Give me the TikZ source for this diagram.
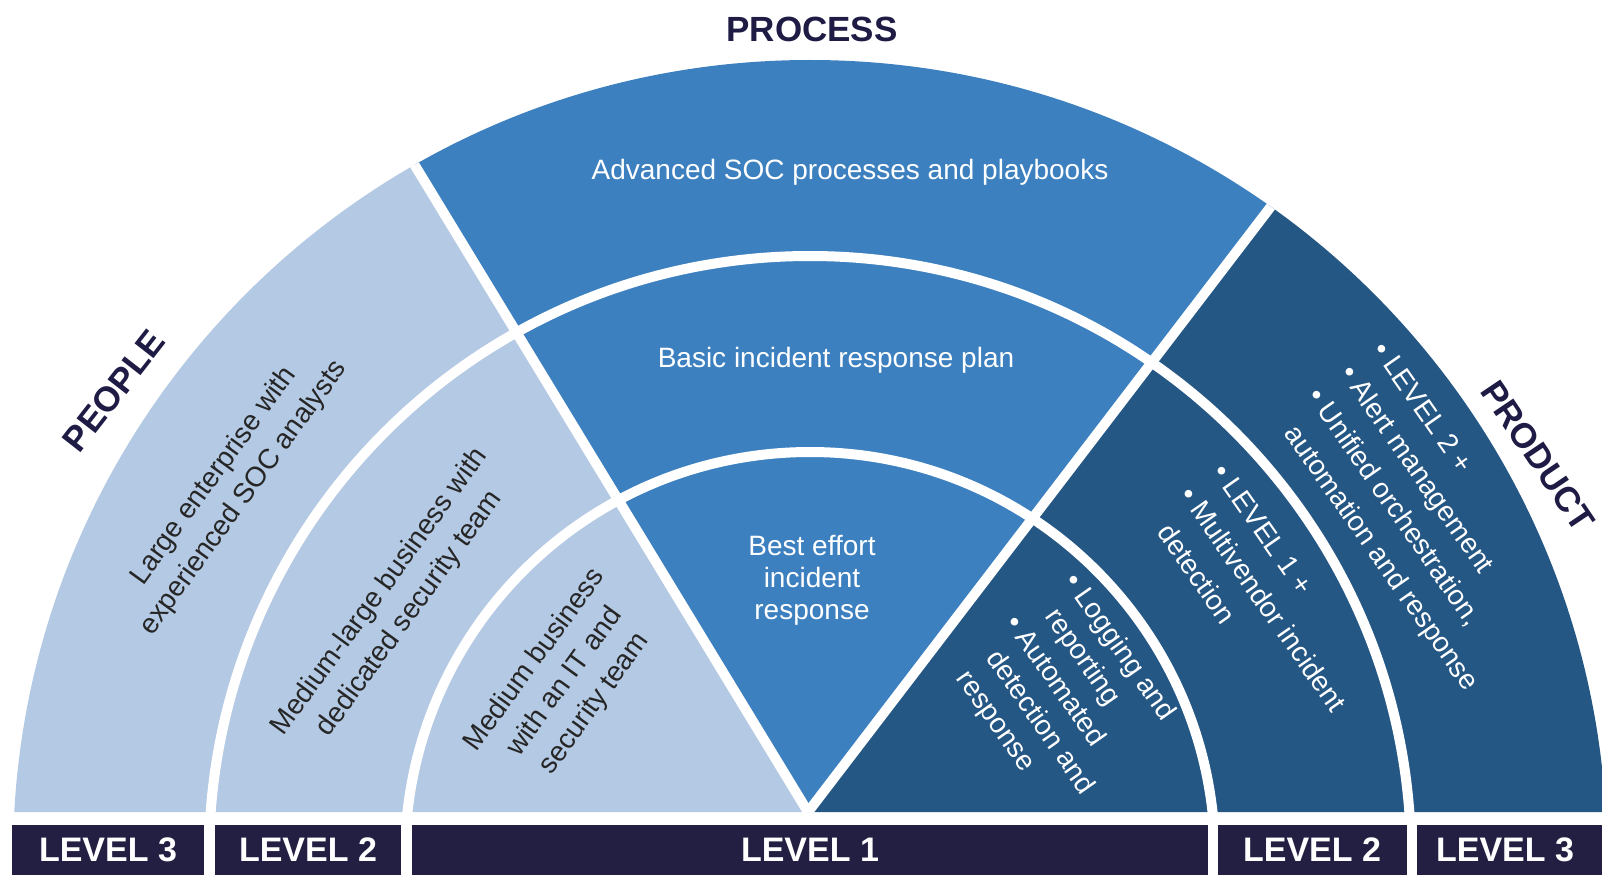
\documentclass[tikz,border=0pt]{standalone}
\usepackage{fontspec}
\setmainfont{Liberation Sans}
\definecolor{peoplec}{RGB}{180,201,227}
\definecolor{processc}{RGB}{60,128,191}
\definecolor{productc}{RGB}{37,87,133}
\definecolor{barc}{RGB}{35,31,66}
\definecolor{titlec}{RGB}{30,27,69}
\begin{document}
\begin{tikzpicture}[x=0.5pt,y=0.5pt,line join=round,
	gap/.style={white,line width=5pt},
	title/.style={font=\fontsize{17.5}{20}\selectfont\bfseries,text=titlec},
	lvl/.style={font=\fontsize{17}{20}\selectfont\bfseries,text=white},
	dark/.style={font=\fontsize{14}{18.5}\selectfont,text=black!85,align=center},
	light/.style={font=\fontsize{14}{16}\selectfont,text=white,align=center},
	list/.style={font=\fontsize{14}{20}\selectfont,text=white,inner sep=0pt}]
	\useasboundingbox (0,0) rectangle (1602,875);
	\coordinate (c) at (810,18);
	\coordinate (o) at (808,63);
	\begin{scope}
	\clip (0,63) rectangle (1602,875);
	\clip (c) circle[radius=797];
	\fill[peoplec] (o) -- ++(180:1000) arc[start angle=180,end angle=121.3,radius=1000] -- cycle;
	\fill[processc] (o) -- ++(121.3:1000) arc[start angle=121.3,end angle=52.6,radius=1000] -- cycle;
	\fill[productc] (o) -- ++(52.6:1000) arc[start angle=52.6,end angle=0,radius=1000] -- cycle;
	\draw[gap] (c) circle[radius=601];
	\draw[gap] (c) circle[radius=405];
	\draw[gap] (o) -- ++(121.3:900);
	\draw[gap] (o) -- ++(52.6:900);
	\end{scope}
	\fill[barc] (12,0) rectangle (204,50);
	\fill[barc] (215,0) rectangle (401,50);
	\fill[barc] (412,0) rectangle (1208,50);
	\fill[barc] (1218,0) rectangle (1407,50);
	\fill[barc] (1417,0) rectangle (1602,50);
	\node[lvl] (lv3a) at (108,25) {LEVEL 3};
	\node[lvl] (lv2a) at (308,25) {LEVEL 2};
	\node[lvl] (lv1) at (810,25) {LEVEL 1};
	\node[lvl] (lv2b) at (1312,25) {LEVEL 2};
	\node[lvl] (lv3b) at (1505,25) {LEVEL 3};
	\node[title] (process) at (812,846) {PROCESS};
	\node[title,rotate=52] (people) at (114,484) {PEOPLE};
	\node[title,rotate=-56] (product) at (1538,419) {PRODUCT};
	\node[dark,rotate=54] (large) at (229,388) {Large enterprise with\\experienced SOC analysts};
	\node[dark,rotate=54] (mlarge) at (395,272) {Medium-large business with\\dedicated security team};
	\node[dark,rotate=54] (medium) at (565,193) {Medium business\\with an IT and\\security team};
	\node[light] (adv) at (850,703) {Advanced SOC processes and playbooks};
	\node[light] (basic) at (836,515) {Basic incident response plan};
	\node[light] (best) at (812,295) {Best effort\\incident\\response};
	\node[list,rotate=-55] (lvl2plus) at (1425,358) {\begin{tabular}{@{}l@{\ }l@{}}
		\textbullet & LEVEL 2 +\\
		\textbullet & Alert management\\
		\textbullet & Unified orchestration,\\
		& automation and response\end{tabular}};
	\node[list,rotate=-55] (lvl1plus) at (1262,275) {\begin{tabular}{@{}l@{\ }l@{}}
		\textbullet & LEVEL 1 +\\
		\textbullet & Multivendor incident\\
		& detection\end{tabular}};
	\node[list,rotate=-55,font=\fontsize{14}{18}\selectfont] (basics) at (1064,180) {\begin{tabular}{@{}l@{\ }l@{}}
		\textbullet & Logging and\\
		& reporting\\
		\textbullet & Automated\\
		& detection and\\
		& response\end{tabular}};
\end{tikzpicture}
\end{document}
